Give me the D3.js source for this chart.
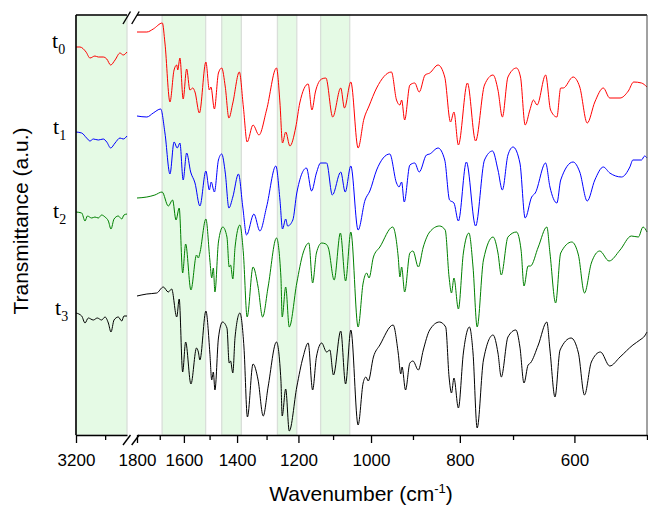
<!DOCTYPE html>
<html>
<head>
<meta charset="utf-8">
<script src="https://cdn.jsdelivr.net/npm/d3@7"></script>
<style>
  body { margin: 0; background: #fff; }
  svg { display: block; }
</style>
</head>
<body>
<div id="chart"></div>
<script>
// spectra as [wavenumber (cm-1), transmittance (a.u., offset per trace)]
// points above 2000 belong to the left (C-H stretch) panel
var t0 = [
  [3200,38.8],[3173,38.8],[3131,38.3],[3104,37.7],[3070,37.9],[3047,37.8],[3013,37.8],[2989,37.6],[2962,37.0],[2932,37.5],[2898,38.2],[2876,38.0],[2850,38.3],
  [1800,40.3],[1756,40.3],[1728,40.6],[1689,41.2],[1678,39.2],[1657,33.3],[1640,36.5],[1629,37.0],[1625,36.5],[1616,37.7],[1603,33.6],[1589,36.6],[1576,34.5],[1565,34.7],[1556,34.3],[1539,32.2],[1514,37.3],[1501,34.5],[1495,34.8],[1482,32.6],[1467,36.2],[1455,36.7],[1442,34.8],[1429,31.7],[1415,33.2],[1392,36.3],[1378,32.8],[1365,29.3],[1345,31.0],[1325,30.0],[1300,32.5],[1268,36.7],[1257,33.2],[1249,29.2],[1239,30.3],[1226,28.9],[1208,30.8],[1196,33.2],[1171,35.1],[1160,32.5],[1150,34.3],[1132,35.6],[1120,35.7],[1101,31.8],[1079,34.7],[1069,32.7],[1052,35.3],[1033,28.7],[1018,31.6],[1005,32.9],[986,34.7],[950,36.3],[938,33.5],[930,33.0],[926,33.5],[919,31.5],[907,35.0],[896,35.2],[886,34.3],[873,36.0],[863,36.2],[845,37.0],[831,35.8],[819,31.3],[812,32.3],[803,29.0],[785,35.2],[769,29.4],[752,35.0],[736,36.0],[727,34.5],[719,31.8],[709,35.8],[694,36.7],[687,35.8],[679,31.0],[671,32.5],[665,33.5],[659,33.0],[645,36.0],[637,32.5],[627,31.8],[621,34.7],[617,34.7],[602,35.8],[592,34.8],[581,31.2],[570,33.3],[558,34.7],[549,33.7],[535,33.7],[524,34.4],[517,35.3],[507,35.2],[500,34.8]
];
var t1 = [
  [3200,30.3],[3161,30.2],[3127,29.7],[3104,29.4],[3081,29.6],[3047,29.5],[3013,29.6],[2989,29.3],[2962,28.7],[2932,29.2],[2898,29.7],[2876,29.6],[2850,29.9],
  [1800,31.9],[1756,31.8],[1728,32.2],[1696,32.6],[1678,30.2],[1657,26.1],[1640,29.3],[1627,28.7],[1616,29.2],[1603,25.5],[1589,28.2],[1573,26.3],[1556,25.2],[1537,22.9],[1514,26.4],[1501,24.5],[1494,25.3],[1482,24.3],[1467,27.5],[1455,28.1],[1442,26.2],[1429,22.7],[1415,23.8],[1395,26.1],[1380,22.8],[1367,20.0],[1342,22.1],[1322,20.4],[1300,22.8],[1270,26.9],[1257,23.5],[1249,20.6],[1239,21.6],[1233,20.9],[1217,21.5],[1205,24.2],[1176,26.7],[1161,24.4],[1147,26.2],[1135,27.2],[1118,27.2],[1102,24.0],[1079,26.3],[1067,24.3],[1052,26.9],[1033,20.5],[1015,23.5],[1003,24.4],[986,26.5],[954,28.1],[938,25.2],[932,24.8],[926,25.3],[920,23.3],[907,27.0],[896,27.2],[886,26.3],[870,28.0],[863,28.1],[845,28.7],[831,27.5],[821,23.5],[812,23.2],[803,21.4],[787,27.3],[769,20.9],[752,27.5],[737,28.4],[727,26.5],[719,24.5],[709,28.0],[700,28.8],[688,27.2],[679,21.7],[668,23.8],[662,24.2],[645,27.2],[638,24.8],[627,23.2],[621,25.5],[602,27.3],[592,26.3],[581,23.4],[570,25.5],[558,26.8],[549,26.2],[533,25.8],[522,26.8],[518,27.5],[507,27.5],[503,27.9],[500,27.7]
];
var t2 = [
  [3200,22.3],[3161,22.2],[3138,21.4],[3122,21.9],[3092,21.7],[3070,21.8],[3047,21.7],[3024,22.0],[3001,21.8],[2978,21.4],[2960,20.6],[2939,21.6],[2910,21.9],[2886,21.6],[2871,22.0],[2850,22.1],
  [1800,23.7],[1756,23.8],[1721,24.0],[1690,24.3],[1664,22.9],[1646,23.5],[1632,21.5],[1619,22.7],[1605,16.2],[1593,19.1],[1572,14.5],[1550,18.0],[1543,17.7],[1537,18.2],[1514,21.6],[1499,17.5],[1492,15.7],[1486,16.7],[1480,14.3],[1467,19.3],[1451,20.8],[1436,19.8],[1428,16.8],[1423,17.0],[1415,15.6],[1407,18.8],[1390,21.0],[1378,18.2],[1365,11.8],[1345,16.8],[1328,14.8],[1313,11.8],[1295,14.8],[1268,19.7],[1254,15.8],[1250,11.8],[1239,14.8],[1228,10.8],[1205,15.2],[1186,18.2],[1169,19.2],[1158,15.2],[1147,18.2],[1132,19.2],[1120,19.1],[1113,18.7],[1097,15.5],[1080,20.2],[1066,15.4],[1052,20.3],[1033,10.8],[1020,15.2],[1011,16.2],[1005,15.7],[994,17.8],[978,18.8],[947,20.8],[934,17.8],[930,15.8],[926,16.8],[919,14.3],[907,18.2],[900,18.4],[888,16.8],[877,18.8],[863,20.3],[842,20.9],[830,20.5],[822,15.8],[817,14.2],[812,15.7],[803,12.6],[793,18.2],[782,20.2],[774,16.8],[766,10.8],[754,17.5],[736,19.8],[727,18.2],[721,16.0],[709,19.8],[694,20.3],[686,18.5],[681,14.9],[674,16.9],[670,16.9],[657,18.8],[643,20.8],[638,18.2],[629,13.2],[621,18.2],[604,19.3],[594,18.0],[585,14.2],[575,17.2],[563,18.4],[550,17.4],[535,18.5],[520,19.9],[511,19.8],[505,20.8],[500,20.3]
];
var t3 = [
  [3200,12.2],[3161,11.9],[3138,11.2],[3116,11.7],[3081,11.5],[3054,11.7],[3024,11.5],[3001,11.8],[2978,11.2],[2960,10.3],[2939,11.5],[2910,11.8],[2886,11.4],[2871,11.9],[2850,11.9],
  [1800,13.9],[1756,14.1],[1713,14.2],[1685,14.8],[1664,14.3],[1650,14.6],[1629,11.8],[1619,13.6],[1605,6.3],[1593,9.3],[1572,5.1],[1550,8.7],[1543,8.3],[1537,7.5],[1514,12.4],[1499,8.2],[1492,5.5],[1486,6.3],[1480,4.5],[1467,9.7],[1452,11.3],[1436,10.7],[1428,7.2],[1423,7.4],[1415,6.2],[1407,9.8],[1390,12.2],[1376,8.8],[1364,1.8],[1345,7.1],[1328,5.5],[1311,1.9],[1295,4.8],[1268,9.3],[1254,5.5],[1250,1.9],[1239,4.6],[1228,0.4],[1205,4.8],[1186,7.8],[1171,9.2],[1158,4.5],[1147,7.8],[1132,9.2],[1118,8.3],[1109,8.5],[1099,6.0],[1079,10.4],[1066,5.1],[1052,10.5],[1033,1.0],[1020,5.2],[1013,5.8],[1007,5.4],[994,7.8],[978,9.0],[946,11.0],[934,8.2],[928,6.1],[925,6.8],[917,4.5],[907,7.2],[900,7.4],[888,6.5],[877,8.5],[863,10.5],[842,11.3],[829,10.8],[822,5.8],[817,4.2],[812,5.7],[803,2.7],[793,8.2],[781,10.8],[774,8.2],[766,0.7],[754,7.5],[736,10.0],[727,8.2],[721,5.8],[709,9.8],[695,10.5],[688,8.8],[681,5.2],[674,7.0],[670,7.2],[657,9.0],[643,11.3],[638,8.5],[630,3.8],[622,8.5],[605,9.7],[594,8.2],[585,4.0],[575,7.3],[562,8.3],[549,6.9],[535,7.8],[518,9.0],[509,9.5],[503,9.9],[500,10.3]
];

var seriesNames = ["t0", "t1", "t2", "t3"];
var seriesColors = ["#ff0000", "#0000ff", "#008000", "#000000"];
var labelValues = [38.8, 30.3, 22.3, 12.2];   // level where each trace label sits

// highlighted regions (cm-1)
var bandsLeft = [[3200, 2850]];
var bandsRight = [[1690, 1515], [1455, 1385], [1265, 1205], [1135, 1055]];

// tick labels
var majorLeft = [3200], minorLeft = [3000];
var majorRight = [1800, 1600, 1400, 1200, 1000, 800, 600];
var minorRight = [1700, 1500, 1300, 1100, 900, 700, 500];

var W = 648, H = 505;
var plot = { left: 76, right: 647, top: 15, bottom: 435, breakL: 127, breakR: 137 };

var svg = d3.select("#chart").append("svg")
    .attr("width", W)
    .attr("height", H)
    .style("font-family", "'Liberation Sans', Arial, sans-serif");

// two x scales: linear for the high end, log for the fingerprint region
var xL = d3.scaleLinear().domain([3200, 2850]).range([plot.left, plot.breakL]);
var xR = d3.scaleLog().domain([1800, 500]).range([plot.breakR, plot.right]);
var y = d3.scaleLinear().domain([0, 42]).range([plot.bottom, plot.top]);

// shaded bands
function drawBands(bands, x) {
    svg.append("g").selectAll("rect")
        .data(bands)
        .enter().append("rect")
        .attr("x", function(d) { return x(d[0]); })
        .attr("width", function(d) { return x(d[1]) - x(d[0]); })
        .attr("y", plot.top)
        .attr("height", plot.bottom - plot.top)
        .style("fill", "#e5fae5")
        .style("stroke", "#d9dfd9")
        .style("stroke-width", 1.3);
}
drawBands(bandsLeft, xL);
drawBands(bandsRight, xR);

// spectra
var lineL = d3.line().x(function(d) { return xL(d[0]); }).y(function(d) { return y(d[1]); }).curve(d3.curveMonotoneX);
var lineR = d3.line().x(function(d) { return xR(d[0]); }).y(function(d) { return y(d[1]); }).curve(d3.curveMonotoneX);

[t0, t1, t2, t3].forEach(function(s, i) {
    var left = s.filter(function(d) { return d[0] > 2000; });
    var right = s.filter(function(d) { return d[0] <= 2000; });
    svg.append("path").attr("d", lineL(left))
        .style("fill", "none").style("stroke", seriesColors[i]).style("stroke-width", 1);
    svg.append("path").attr("d", lineR(right))
        .style("fill", "none").style("stroke", seriesColors[i]).style("stroke-width", 1);
});

// frame
svg.append("line").attr("x1", plot.left).attr("x2", plot.left)
    .attr("y1", plot.top).attr("y2", plot.bottom)
    .style("stroke", "#000").style("stroke-width", 1.6);
svg.append("line").attr("x1", plot.left).attr("x2", plot.breakL)
    .attr("y1", plot.top).attr("y2", plot.top)
    .style("stroke", "#000").style("stroke-width", 1.6);
svg.append("line").attr("x1", plot.breakR).attr("x2", plot.right)
    .attr("y1", plot.top).attr("y2", plot.top)
    .style("stroke", "#000").style("stroke-width", 1.6);
svg.append("line").attr("x1", plot.right).attr("x2", plot.right)
    .attr("y1", plot.top).attr("y2", plot.bottom)
    .style("stroke", "#444").style("stroke-width", 1);

// bottom axes
function drawAxis(x, major, minor) {
    var gMinor = svg.append("g")
        .attr("transform", "translate(0," + plot.bottom + ")")
        .call(d3.axisBottom(x).tickValues(minor).tickSize(5).tickSizeOuter(0).tickFormat(""));
    gMinor.select(".domain").remove();
    var g = svg.append("g")
        .attr("transform", "translate(0," + plot.bottom + ")")
        .call(d3.axisBottom(x).tickValues(major).tickSize(8).tickSizeOuter(0)
            .tickPadding(11).tickFormat(d3.format("d")));
    g.select(".domain").style("stroke-width", 1.6);
    g.selectAll(".tick line").style("stroke-width", 1.3);
    gMinor.selectAll(".tick line").style("stroke-width", 1.3);
    g.selectAll("text")
        .style("font-family", "'Liberation Sans', Arial, sans-serif")
        .style("font-size", "17px")
        .style("fill", "#000");
}
drawAxis(xL, majorLeft, minorLeft);
drawAxis(xR, majorRight, minorRight);

// axis break marks
function breakMarks(yy, y0, y1) {
    [123, 131.7].forEach(function(bx) {
        svg.append("line")
            .attr("x1", bx).attr("y1", yy + y1)
            .attr("x2", bx + 7.5).attr("y2", yy + y0)
            .style("stroke", "#000").style("stroke-width", 1.4);
    });
}
breakMarks(plot.top, -3.5, 9);
breakMarks(plot.bottom, 0, 10);

// trace labels t0..t3
var labelX = [52, 53, 53, 55];
var labelBase = [48, 134, 218, 315];
seriesNames.forEach(function(name, i) {
    var t = svg.append("text")
        .attr("x", labelX[i])
        .attr("y", labelBase[i])
        .style("font-family", "'Liberation Serif', 'Times New Roman', serif")
        .style("font-size", "22px")
        .style("fill", "#000");
    t.append("tspan").text("t");
    t.append("tspan").attr("dy", 6).style("font-size", "14px").text(name.slice(1));
});

// axis titles
var xt = svg.append("text")
    .attr("x", 361)
    .attr("y", 501)
    .attr("text-anchor", "middle")
    .style("font-size", "21px")
    .style("fill", "#000");
xt.append("tspan").text("Wavenumber (cm");
xt.append("tspan").attr("dy", -8).style("font-size", "13px").text("-1");
xt.append("tspan").attr("dy", 8).text(")");

svg.append("text")
    .attr("transform", "translate(28,221) rotate(-90)")
    .attr("text-anchor", "middle")
    .style("font-size", "21px")
    .style("fill", "#000")
    .text("Transmittance (a.u.)");
</script>
</body>
</html>
